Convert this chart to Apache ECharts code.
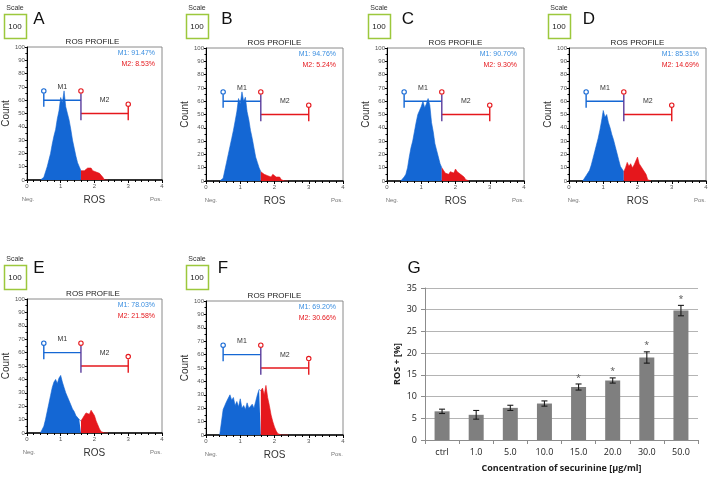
<!DOCTYPE html>
<html>
<head>
<meta charset="utf-8">
<script src="https://cdn.jsdelivr.net/npm/echarts@6/dist/echarts.min.js"></script>
<style>
  html, body { margin: 0; padding: 0; background: #fff; }
  #main { width: 711px; height: 478px; }
</style>
</head>
<body>
<div id="main"></div>
<script>
// histogram bin centres (ROS, log decades 0..4)
var bins = [0.40,0.45,0.50,0.55,0.60,0.65,0.70,0.75,0.80,0.85,0.90,0.95,1.00,1.05,1.10,1.15,1.20,1.25,1.30,1.35,
            1.40,1.45,1.50,1.55,1.60,1.65,1.70,1.75,1.80,1.85,1.90,1.95,2.00,2.05,2.10,2.15,2.20,2.25,2.30,2.35,2.40];
var countsA = [0,0,2,6,10,15,20,27,33,38,46,52,62,58,67,55,50,45,38,30,24,18,13,10,7,6,7,8,9,8,9,7,8,6,7,5,6,2,0,0,0];
var countsB = [0,0,2,8,14,20,26,32,38,45,52,62,58,67,60,63,52,46,38,32,25,18,14,10,7,6,5,6,4,5,3,5,4,3,2,3,1,0,0,0,0];
var countsC = [0,0,3,5,10,18,25,30,37,44,50,53,56,60,55,58,62,57,44,37,28,23,18,13,10,8,6,7,5,7,8,6,9,7,8,5,4,3,1,0,0];
var countsD = [0,2,4,6,8,12,17,22,27,32,38,45,53,48,50,44,40,35,31,26,21,16,11,9,7,10,14,11,13,10,12,15,18,13,14,9,8,5,1,0,0];
var countsE = [0,1,5,10,16,22,28,34,38,40,37,41,43,38,34,30,27,24,21,18,16,13,12,10,9,11,13,15,16,14,17,18,13,9,6,3,1,0,0,0,0];
var countsF = [0,0,19,22,25,24,30,26,28,22,25,21,27,20,22,19,24,20,21,23,20,25,30,34,33,35,30,37,28,22,15,10,6,3,1,0,0,0,0,0,0];
var allCounts = [countsA, countsB, countsC, countsD, countsE, countsF];

var m1Pct = ['91.47%', '94.76%', '90.70%', '85.31%', '78.03%', '69.20%'];
var m2Pct = ['8.53%', '5.24%', '9.30%', '14.69%', '21.58%', '30.66%'];
var letters = ['A', 'B', 'C', 'D', 'E', 'F'];

// gates: [from, to, level]
var gateM1 = [0.5, 1.6, 60];
var gateM2 = [1.6, 3.0, 50];

// panel G
var concLabels = ['ctrl', '1.0', '5.0', '10.0', '15.0', '20.0', '30.0', '50.0'];
var rosMean = [6.6, 5.8, 7.4, 8.4, 12.2, 13.7, 19.0, 29.8];
var rosErr = [0.5, 1.0, 0.6, 0.6, 0.7, 0.6, 1.3, 1.2];
var signif = [0, 0, 0, 0, 1, 1, 1, 1];

var F = "'Liberation Sans', Arial, sans-serif";
var FG = "'Open Sans', 'Liberation Sans', sans-serif";
var BLUE = '#1467d4', RED = '#e5171c', PURPLE = '#5a3c9c';

var histGrids = [
  { left: 23, top: 47, width: 139, height: 133 },
  { left: 206, top: 48, width: 137, height: 133 },
  { left: 387, top: 48, width: 137, height: 133 },
  { left: 569, top: 48, width: 137, height: 133 },
  { left: 24, top: 299, width: 138, height: 134 },
  { left: 206, top: 301, width: 137, height: 134 }
];
var scaleBoxes = [[4, 14], [186, 14], [368, 14], [548, 14], [4, 265], [186, 265]];
var letterPos = [[39, 19], [227, 19], [408, 19], [589, 19], [39, 268], [223, 268]];

var chart = echarts.init(document.getElementById('main'));

var grids = [], xAxes = [], yAxes = [], series = [], graphics = [];

function gateItem(params, api) {
  var h = api.size([0, 5])[1];
  var a1 = api.coord([gateM1[0], gateM1[2]]), b1 = api.coord([gateM1[1], gateM1[2]]);
  var a2 = api.coord([gateM2[0], gateM2[2]]), b2 = api.coord([gateM2[1], gateM2[2]]);
  var ln = function (x1, y1, x2, y2, c) {
    return { type: 'line', shape: { x1: x1, y1: y1, x2: x2, y2: y2 }, style: { stroke: c, lineWidth: 1.4 } };
  };
  var ring = function (x, y, c) {
    return { type: 'circle', shape: { cx: x, cy: y, r: 2.2 }, style: { fill: '#fff', stroke: c, lineWidth: 1.1 } };
  };
  var txt = function (x, y, t) {
    return { type: 'text', x: x, y: y, style: { text: t, fontSize: 7, fill: '#333', fontFamily: F, align: 'center', verticalAlign: 'middle' } };
  };
  return {
    type: 'group',
    children: [
      ln(a1[0], a1[1], b1[0], b1[1], BLUE),
      ln(a1[0], a1[1] - h, a1[0], a1[1] + h, BLUE),
      ln(a2[0], a2[1], b2[0], b2[1], RED),
      ln(b2[0], b2[1] - h, b2[0], b2[1] + h, RED),
      ln(b1[0], b1[1] - h, b1[0], a2[1] + h, PURPLE),
      ring(a1[0], a1[1] - 1.4 * h, BLUE),
      ring(b1[0], b1[1] - 1.4 * h, RED),
      ring(b2[0], b2[1] - 1.4 * h, RED),
      txt((a1[0] + b1[0]) / 2, a1[1] - 2 * h, 'M1'),
      txt((a2[0] + b2[0]) / 2, a2[1] - 2 * h, 'M2')
    ]
  };
}

histGrids.forEach(function (g, i) {
  grids.push({ left: g.left, top: g.top, width: g.width, height: g.height, show: true, borderColor: '#8a8a8a', borderWidth: 1 });
  xAxes.push({
    gridIndex: i, type: 'value', min: 0, max: 4, interval: 1,
    axisLine: { lineStyle: { color: '#000', width: 1.5 } },
    axisTick: { length: 3, lineStyle: { color: '#000' } },
    minorTick: { show: true, splitNumber: 5, length: 2, lineStyle: { color: '#000' } },
    axisLabel: { fontSize: 6, color: '#555', margin: 3, fontFamily: F },
    splitLine: { show: false },
    name: 'ROS', nameLocation: 'middle', nameGap: 15,
    nameTextStyle: { fontSize: 10, color: '#333', fontFamily: F }
  });
  yAxes.push({
    gridIndex: i, type: 'value', min: 0, max: 100, interval: 10,
    axisLine: { show: true, lineStyle: { color: '#000', width: 1 } },
    axisTick: { show: true, length: 2, lineStyle: { color: '#000' } },
    minorTick: { show: true, splitNumber: 2, length: 1.5, lineStyle: { color: '#000' } },
    axisLabel: { fontSize: 6, color: '#555', margin: 2, fontFamily: F },
    splitLine: { show: false },
    name: 'Count', nameLocation: 'middle', nameGap: 9,
    nameTextStyle: { fontSize: 10, color: '#333', fontFamily: F }
  });
  var pts = bins.map(function (b, j) { return [b, allCounts[i][j]]; });
  series.push({
    type: 'line', xAxisIndex: i, yAxisIndex: i, symbol: 'none', silent: true,
    data: pts.filter(function (p) { return p[0] <= gateM1[1] + 1e-9; }),
    lineStyle: { width: 0.6, color: BLUE }, areaStyle: { color: BLUE, opacity: 1 }
  });
  series.push({
    type: 'line', xAxisIndex: i, yAxisIndex: i, symbol: 'none', silent: true,
    data: pts.filter(function (p) { return p[0] >= gateM2[0] - 1e-9; }),
    lineStyle: { width: 0.6, color: RED }, areaStyle: { color: RED, opacity: 1 }
  });
  series.push({
    type: 'custom', xAxisIndex: i, yAxisIndex: i, silent: true, z: 5,
    data: [[0, 0]], renderItem: gateItem
  });

  var cx = g.left + g.width / 2, bottom = g.top + g.height, right = g.left + g.width;
  var sb = scaleBoxes[i], lp = letterPos[i];
  var t = function (x, y, s, size, fill, align) {
    return { type: 'text', x: x, y: y, silent: true,
      style: { text: s, fontSize: size, fill: fill, fontFamily: F, align: align || 'center', verticalAlign: 'middle' } };
  };
  graphics.push(
    t(sb[0] + 11, sb[1] - 6, 'Scale', 7, '#333'),
    { type: 'rect', silent: true, shape: { x: sb[0] + 0.5, y: sb[1] + 0.5, width: 22, height: 24 },
      style: { fill: '#fff', stroke: '#9cc83c', lineWidth: 1.5 } },
    t(sb[0] + 11, sb[1] + 12.5, '100', 8, '#222'),
    t(lp[0], lp[1], letters[i], 17, '#111'),
    t(cx, g.top - 5, 'ROS PROFILE', 8, '#222'),
    t(right - 7, g.top + 6, 'M1: ' + m1Pct[i], 7, '#3a8ee0', 'right'),
    t(right - 7, g.top + 17, 'M2: ' + m2Pct[i], 7, RED, 'right'),
    t(g.left + 5, bottom + 19, 'Neg.', 6, '#777'),
    t(right - 6, bottom + 19, 'Pos.', 6, '#777')
  );
});

// panel G
grids.push({ left: 425, top: 288, width: 273, height: 152 });
xAxes.push({
  gridIndex: 6, type: 'category', data: concLabels,
  axisLine: { lineStyle: { color: '#8c8c8c' } },
  axisTick: { show: true, length: 4, lineStyle: { color: '#8c8c8c' } },
  axisLabel: { fontSize: 9, color: '#222', margin: 8, fontFamily: FG },
  name: 'Concentration of securinine [µg/ml]', nameLocation: 'middle', nameGap: 24,
  nameTextStyle: { fontSize: 9, fontWeight: 'bold', color: '#222', fontFamily: FG }
});
yAxes.push({
  gridIndex: 6, type: 'value', min: 0, max: 35, interval: 5,
  axisLine: { show: true, lineStyle: { color: '#8c8c8c' } },
  axisTick: { show: true, length: 4, lineStyle: { color: '#8c8c8c' } },
  axisLabel: { fontSize: 9, color: '#222', margin: 8, fontFamily: FG },
  splitLine: { lineStyle: { color: '#b4b4b4' } },
  name: 'ROS + [%]', nameLocation: 'middle', nameGap: 23,
  nameTextStyle: { fontSize: 9, fontWeight: 'bold', color: '#222', fontFamily: FG }
});
series.push({
  type: 'bar', xAxisIndex: 6, yAxisIndex: 6, data: rosMean, barWidth: 15, silent: true,
  itemStyle: { color: '#7f7f7f' }
});
series.push({
  type: 'custom', xAxisIndex: 6, yAxisIndex: 6, silent: true, z: 5,
  encode: { x: 0, y: [1, 2] },
  data: rosMean.map(function (m, i) { return [i, m - rosErr[i], m + rosErr[i], signif[i]]; }),
  renderItem: function (params, api) {
    var lo = api.coord([api.value(0), api.value(1)]);
    var hi = api.coord([api.value(0), api.value(2)]);
    var st = { stroke: '#1a1a1a', lineWidth: 1.1 };
    var kids = [
      { type: 'line', shape: { x1: lo[0], y1: lo[1], x2: hi[0], y2: hi[1] }, style: st },
      { type: 'line', shape: { x1: lo[0] - 3, y1: lo[1], x2: lo[0] + 3, y2: lo[1] }, style: st },
      { type: 'line', shape: { x1: hi[0] - 3, y1: hi[1], x2: hi[0] + 3, y2: hi[1] }, style: st }
    ];
    if (api.value(3)) {
      kids.push({ type: 'text', x: hi[0], y: hi[1] - 6,
        style: { text: '*', fontSize: 9, fill: '#555', fontFamily: FG, align: 'center', verticalAlign: 'middle' } });
    }
    return { type: 'group', children: kids };
  }
});
graphics.push({ type: 'text', x: 414, y: 268, silent: true,
  style: { text: 'G', fontSize: 17, fill: '#111', fontFamily: F, align: 'center', verticalAlign: 'middle' } });

chart.setOption({
  animation: false,
  grid: grids,
  xAxis: xAxes,
  yAxis: yAxes,
  series: series,
  graphic: graphics
});
</script>
</body>
</html>
